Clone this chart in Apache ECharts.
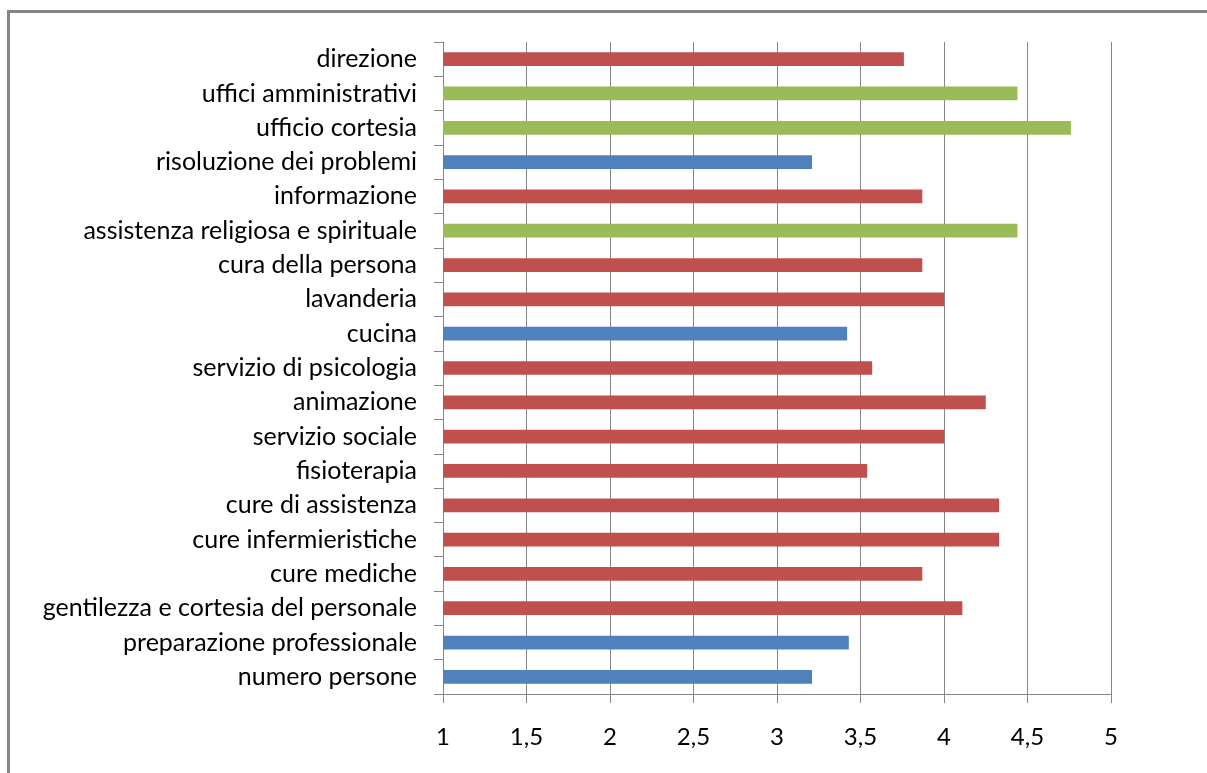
<!DOCTYPE html>
<html>
<head>
<meta charset="utf-8">
<title>Soddisfazione servizi</title>
<script src="https://cdn.jsdelivr.net/npm/echarts@6/dist/echarts.min.js"></script>
<style>
  html, body { margin: 0; padding: 0; background: #ffffff; }
  #chart { width: 1207px; height: 773px; }
</style>
</head>
<body>
<div id="chart"></div>
<script>
// Voci del questionario, dall'alto verso il basso
const categorie = [
  'direzione',
  'uffici amministrativi',
  'ufficio cortesia',
  'risoluzione dei problemi',
  'informazione',
  'assistenza religiosa e spirituale',
  'cura della persona',
  'lavanderia',
  'cucina',
  'servizio di psicologia',
  'animazione',
  'servizio sociale',
  'fisioterapia',
  'cure di assistenza',
  'cure infermieristiche',
  'cure mediche',
  'gentilezza e cortesia del personale',
  'preparazione professionale',
  'numero persone'
];

// Punteggio medio (scala 1-5)
const punteggi = [
  3.76, 4.44, 4.76, 3.21, 3.87, 4.44, 3.87, 4.00, 3.42, 3.57,
  4.25, 4.00, 3.54, 4.33, 4.33, 3.87, 4.11, 3.43, 3.21
];

// Fascia di giudizio di ogni voce
const fasce = [
  'media', 'alta', 'alta', 'bassa', 'media', 'alta', 'media', 'media', 'bassa', 'media',
  'media', 'media', 'media', 'media', 'media', 'media', 'media', 'bassa', 'bassa'
];

// Tacche dell'asse dei punteggi
const tacche = { min: 1, max: 5, passo: 0.5 };

const coloriFascia = { bassa: '#4F81BD', media: '#C0504D', alta: '#9BBB59' };
const grigio = '#868686';
const font = 'Lato, "Open Sans", sans-serif';

const chart = echarts.init(document.getElementById('chart'), null, { renderer: 'canvas' });

chart.setOption({
  backgroundColor: '#ffffff',
  animation: false,
  graphic: [{
    type: 'rect',
    shape: { x: 8.5, y: 11.5, width: 1400, height: 1000 },
    style: { fill: 'none', stroke: grigio, lineWidth: 3 },
    silent: true
  }],
  grid: { left: 443, right: 96, top: 42, bottom: 79, containLabel: false },
  xAxis: {
    type: 'value',
    min: tacche.min,
    max: tacche.max,
    interval: tacche.passo,
    axisLine: { show: true, lineStyle: { color: grigio, width: 1 } },
    axisTick: { show: true, length: 9, lineStyle: { color: grigio, width: 1 } },
    splitLine: { show: true, lineStyle: { color: grigio, width: 1 } },
    axisLabel: {
      margin: 31,
      color: '#000000',
      fontFamily: font,
      fontSize: 24,
      formatter: v => String(v).replace('.', ',')
    }
  },
  yAxis: {
    type: 'category',
    data: categorie,
    inverse: true,
    axisLine: { show: true, lineStyle: { color: grigio, width: 1 } },
    axisTick: { show: true, length: 9, alignWithLabel: false, lineStyle: { color: grigio, width: 1 } },
    splitLine: { show: false },
    axisLabel: {
      margin: 26,
      color: '#000000',
      fontFamily: font,
      fontSize: 25,
      interval: 0
    }
  },
  series: [{
    type: 'bar',
    barWidth: '40%',
    data: punteggi.map((v, i) => ({
      value: v,
      itemStyle: { color: coloriFascia[fasce[i]] }
    }))
  }]
});
</script>
</body>
</html>
